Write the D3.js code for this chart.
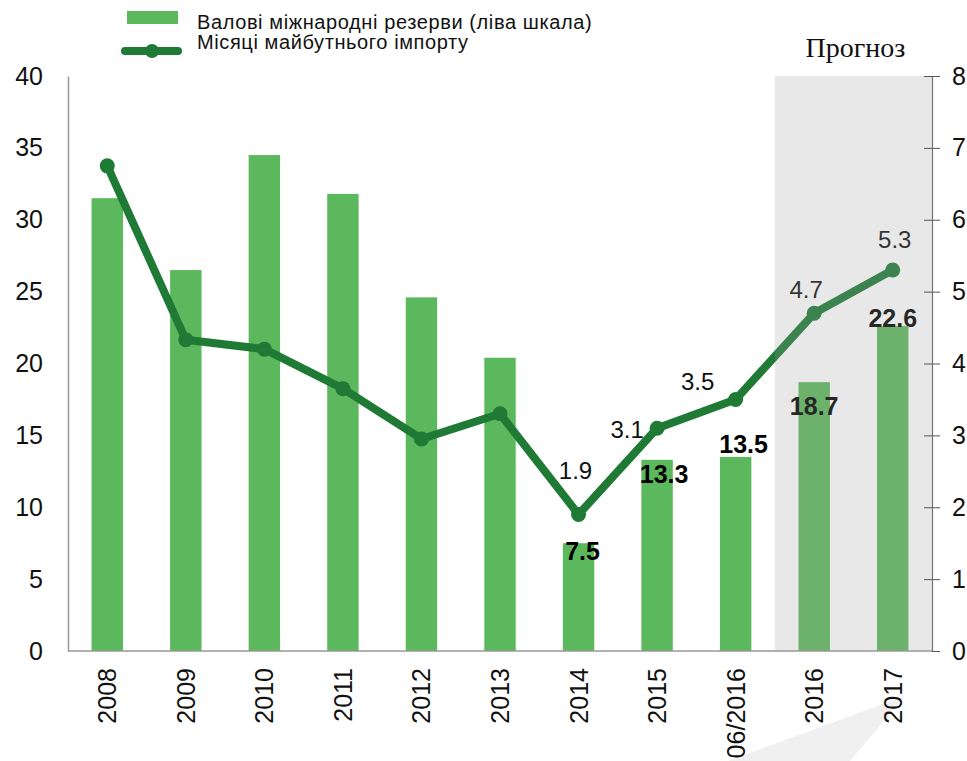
<!DOCTYPE html>
<html>
<head>
<meta charset="utf-8">
<script src="https://cdn.jsdelivr.net/npm/d3@7"></script>
<style>
  body { margin: 0; background: #fff; }
  svg { display: block; font-family: "Liberation Sans", Arial, sans-serif; }
</style>
</head>
<body>
<svg width="967" height="761"></svg>
<script>
const years = ["2008", "2009", "2010", "2011", "2012", "2013", "2014", "2015", "06/2016", "2016", "2017"];
const reserves = [31.5, 26.5, 34.5, 31.8, 24.6, 20.4, 7.5, 13.3, 13.5, 18.7, 22.6];
const importMonths = [6.75, 4.33, 4.2, 3.65, 2.95, 3.3, 1.9, 3.1, 3.5, 4.7, 5.3];
const forecastYears = ["2016", "2017"];
const labelledYears = ["2014", "2015", "06/2016", "2016", "2017"];
const leftTicks = [0, 5, 10, 15, 20, 25, 30, 35, 40];
const rightTicks = [0, 1, 2, 3, 4, 5, 6, 7, 8];
const legendNames = ["Валові міжнародні резерви (ліва шкала)", "Місяці майбутнього імпорту"];
const forecastTitle = "Прогноз";

const data = years.map((y, i) => ({ year: y, res: reserves[i], months: importMonths[i] }));

const plotL = 68, plotR = 932, plotT = 76, plotB = 651;
const svg = d3.select("svg");

const x = d3.scaleBand().domain(years).range([plotL, plotR]).paddingInner(0.6).paddingOuter(0.3);
const yL = d3.scaleLinear().domain([0, 40]).range([plotB, plotT]);
const yR = d3.scaleLinear().domain([0, 8]).range([plotB, plotT]);
const cx = d => x(d) + x.bandwidth() / 2;

// faint shape under the axis labels
svg.append("polygon")
  .attr("points", "728,761 905,696 850,761")
  .attr("fill", "#f0f0f0");

// bars
svg.append("g").selectAll("rect").data(data).join("rect")
  .attr("x", d => x(d.year))
  .attr("width", x.bandwidth())
  .attr("y", d => yL(d.res))
  .attr("height", d => yL(0) - yL(d.res))
  .attr("fill", "#5cb85c");

// line
const line = d3.line().x(d => cx(d.year)).y(d => yR(d.months));
svg.append("path").datum(data)
  .attr("d", line)
  .attr("fill", "none")
  .attr("stroke", "#1e7a35")
  .attr("stroke-width", 8)
  .attr("stroke-linejoin", "round");
svg.append("g").selectAll("circle").data(data).join("circle")
  .attr("cx", d => cx(d.year))
  .attr("cy", d => yR(d.months))
  .attr("r", 7.5)
  .attr("fill", "#1e7a35");

// value labels (offsets in px, baseline relative to the mark)
const lineOff = { "2014": [-3, -35], "2015": [-30, 10], "06/2016": [-38, -9], "2016": [-8, -15], "2017": [2, -22] };
const barOff = { "2014": [4, 17], "2015": [7, 23], "06/2016": [8, -4], "2016": [0, 33], "2017": [0, 1] };
const lab = data.filter(d => labelledYears.includes(d.year));

svg.append("g").selectAll("text").data(lab).join("text")
  .attr("x", d => cx(d.year) + lineOff[d.year][0])
  .attr("y", d => yR(d.months) + lineOff[d.year][1])
  .attr("text-anchor", "middle")
  .attr("font-size", 24)
  .attr("fill", "#111")
  .text(d => d.months.toFixed(1));

svg.append("g").selectAll("text").data(lab).join("text")
  .attr("x", d => cx(d.year) + barOff[d.year][0])
  .attr("y", d => yL(d.res) + barOff[d.year][1])
  .attr("text-anchor", "middle")
  .attr("font-size", 25)
  .attr("font-weight", "bold")
  .attr("fill", "#000")
  .text(d => d.res.toFixed(1));

// forecast shading laid over the marks
const fx0 = x(forecastYears[0]) - x.step() * x.paddingInner() / 2;
svg.append("rect")
  .attr("x", fx0)
  .attr("y", plotT)
  .attr("width", plotR - fx0)
  .attr("height", plotB - plotT)
  .attr("fill", "rgb(161,161,161)")
  .attr("fill-opacity", 0.245);

svg.append("text")
  .attr("x", (fx0 + plotR) / 2 + 2)
  .attr("y", 57)
  .attr("text-anchor", "middle")
  .attr("font-family", "'Liberation Serif', 'Times New Roman', serif")
  .attr("font-size", 28)
  .attr("fill", "#111")
  .text(forecastTitle);

// axes
const axL = svg.append("g")
  .attr("transform", `translate(${plotL},0)`)
  .call(d3.axisLeft(yL).tickValues(leftTicks).tickSize(0).tickPadding(25));
axL.select(".domain").attr("stroke", "#999").attr("stroke-width", 1.5);
axL.selectAll("text").attr("font-size", 25).attr("fill", "#111").attr("font-family", "'Liberation Sans', Arial, sans-serif");

svg.append("line")
  .attr("x1", plotL).attr("x2", plotR)
  .attr("y1", plotB).attr("y2", plotB)
  .attr("stroke", "#999").attr("stroke-width", 1.5);

const axR = svg.append("g")
  .attr("transform", `translate(${plotR},0)`)
  .call(d3.axisRight(yR).tickValues(rightTicks).tickSize(8).tickSizeOuter(0).tickPadding(12));
axR.select(".domain").attr("stroke", "#777").attr("stroke-width", 1.2);
axR.selectAll(".tick line").attr("x1", d => d === 0 ? 0 : -8).attr("stroke", "#555");
axR.selectAll("text").attr("font-size", 25).attr("fill", "#111").attr("font-family", "'Liberation Sans', Arial, sans-serif");

// category labels
svg.append("g").selectAll("text").data(years).join("text")
  .attr("transform", d => `translate(${cx(d)},668) rotate(-90)`)
  .attr("text-anchor", "end")
  .attr("dy", "0.36em")
  .attr("font-size", 25)
  .attr("fill", "#111")
  .text(d => d);

// legend
const lg = svg.append("g");
lg.append("rect").attr("x", 127).attr("y", 11).attr("width", 51).attr("height", 13).attr("fill", "#5cb85c");
lg.append("line").attr("x1", 125).attr("x2", 178).attr("y1", 51).attr("y2", 51)
  .attr("stroke", "#1e7a35").attr("stroke-width", 8).attr("stroke-linecap", "round");
lg.append("circle").attr("cx", 152).attr("cy", 51).attr("r", 7).attr("fill", "#1e7a35");
lg.selectAll("text").data(legendNames).join("text")
  .attr("x", 197)
  .attr("y", (d, i) => 29 + i * 20)
  .attr("font-size", 20)
  .attr("letter-spacing", 0.6)
  .attr("fill", "#111")
  .text(d => d);
</script>
</body>
</html>
